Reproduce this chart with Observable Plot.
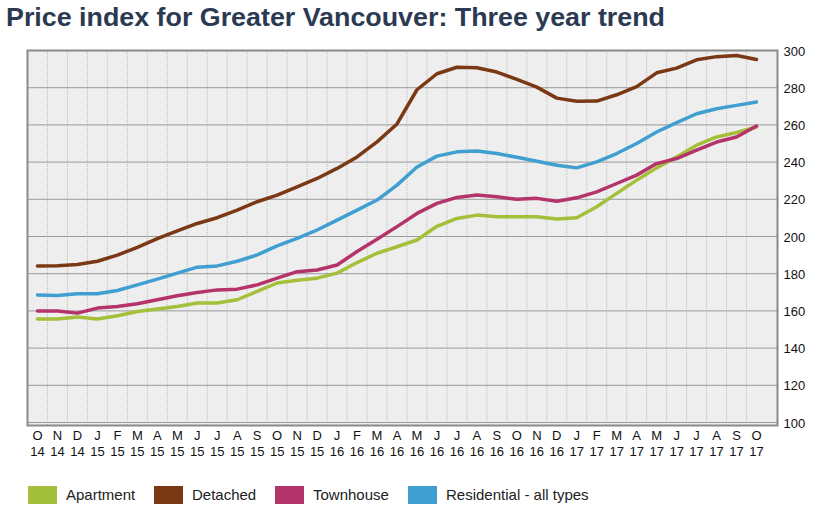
<!DOCTYPE html>
<html>
<head>
<meta charset="utf-8">
<script src="https://cdn.jsdelivr.net/npm/d3@7"></script>
<script src="https://cdn.jsdelivr.net/npm/@observablehq/plot@0.6"></script>
<style>
  html, body { margin: 0; padding: 0; background: #fff; }
  body { width: 824px; height: 508px; position: relative; overflow: hidden; font-family: "Liberation Sans", Arial, Helvetica, sans-serif; }
  #title { position: absolute; left: 6px; top: 2px; height: 38px; white-space: nowrap; font-size: 26px; font-weight: bold; color: #2b3a52; transform-origin: 0 0; }
  #chart { position: absolute; left: 0; top: 40px; }
  #legend { position: absolute; left: 0; top: 470px; width: 824px; height: 38px; }
  .sw { position: absolute; top: 16px; width: 29px; height: 18px; }
  .lt { position: absolute; top: 16px; line-height: 18px; font-size: 15px; color: #222; white-space: nowrap; }
</style>
</head>
<body>
<div id="title">Price index for Greater Vancouver: Three year trend</div>
<div id="chart"></div>
<div id="legend"></div>
<script>
const monthLabels = ["O","N","D","J","F","M","A","M","J","J","A","S","O","N","D","J","F","M","A","M","J","J","A","S","O","N","D","J","F","M","A","M","J","J","A","S","O"];
const yearLabels = ["14","14","14","15","15","15","15","15","15","15","15","15","15","15","15","16","16","16","16","16","16","16","16","16","16","16","16","17","17","17","17","17","17","17","17","17","17"];
const yTicks = [100,120,140,160,180,200,220,240,260,280,300];

const seriesNames = ["Apartment","Detached","Townhouse","Residential - all types"];
const seriesColors = ["#a4c03a","#7a3814","#b3336a","#3f9fd0"];

const apartment = [155.6,155.6,156.7,155.6,157.4,159.7,161,162.4,164.2,164.2,166,170.5,175,176.5,177.6,180.3,186,191,194.5,198.1,205.5,209.7,211.5,210.6,210.6,210.6,209.4,210.1,216,223.2,230.3,236.9,242.8,249.1,253.5,255.9,258.9];
const detached = [184.2,184.3,185,186.7,190,194.2,198.8,203,207,210.1,214.2,218.7,222.2,226.7,231.2,236.6,242.8,250.9,260.5,278.9,287.5,291,290.7,288.4,284.5,280.3,274.4,272.7,272.8,276.2,280.6,288,290.5,295,296.7,297.3,295.2];
const townhouse = [160,160,158.8,161.5,162.4,163.8,166,168.1,169.9,171.3,171.7,174,177.6,181.1,182,184.7,191.9,198.5,205.3,212.4,217.8,221,222.3,221.4,220,220.5,219,220.8,224,228.5,233,239.2,241.9,246.4,250.8,253.5,259.4];
const residential = [168.5,168.3,169.2,169.2,171,174,177.1,180.3,183.5,184.2,186.7,190.1,195,199,203.5,208.8,214.2,219.6,227.6,237.4,243.2,245.5,246,244.6,242.6,240.5,238.3,236.9,240.1,244.6,250,256.2,261.2,266,268.7,270.5,272.3];

const seriesValues = [apartment, detached, townhouse, residential];
const rows = [];
seriesValues.forEach((vals, s) => vals.forEach((v, i) => rows.push({series: seriesNames[s], i, v})));
const idx = monthLabels.map((_, i) => i);
const vGrid = idx.slice(0, -1).map(i => i + 0.5);

const chart = Plot.plot({
  width: 824,
  height: 430,
  marginLeft: 27,
  marginRight: 47,
  marginTop: 10,
  marginBottom: 45,
  style: {fontFamily: "'Liberation Sans', Arial, sans-serif", fontSize: "13px", color: "#111", background: "transparent"},
  x: {domain: [-0.5, 37.05], axis: null},
  y: {domain: [100, 300], axis: null, insetBottom: 3},
  color: {domain: seriesNames, range: seriesColors},
  marks: [
    Plot.frame({fill: "#eeeeee", stroke: null}),
    Plot.ruleX(vGrid, {stroke: "#bdbdbd", strokeWidth: 1, strokeDasharray: "1,1"}),
    Plot.gridY(yTicks, {stroke: "#9a9a9a", strokeOpacity: 1, strokeWidth: 1}),
    Plot.line(rows, {x: "i", y: "v", z: "series", stroke: "series", strokeWidth: 3.5, curve: "linear"}),
    Plot.frame({stroke: "#8a8a8a", strokeWidth: 2}),
    Plot.axisY(yTicks, {anchor: "right", tickSize: 0, tickPadding: 6, fontSize: 13, fill: "#111", label: null, dy: 1}),
    Plot.axisX(idx, {anchor: "bottom", tickSize: 0, tickPadding: 3, fontSize: 13, fill: "#111", label: null, lineHeight: 1.25,
      tickFormat: i => monthLabels[i] + "\n" + yearLabels[i]})
  ]
});
document.getElementById("chart").appendChild(chart);

// legend
const legend = document.getElementById("legend");
const swX = [28, 154, 275, 408];
seriesNames.forEach((name, k) => {
  const sw = document.createElement("div");
  sw.className = "sw";
  sw.style.left = swX[k] + "px";
  sw.style.background = seriesColors[k];
  legend.appendChild(sw);
  const t = document.createElement("div");
  t.className = "lt";
  t.style.left = (swX[k] + 38) + "px";
  t.textContent = name;
  legend.appendChild(t);
});

// fit title width to reference (~659px)
const title = document.getElementById("title");
const w = title.getBoundingClientRect().width;
title.style.transform = "scaleX(" + (659 / w) + ")";
</script>
</body>
</html>
